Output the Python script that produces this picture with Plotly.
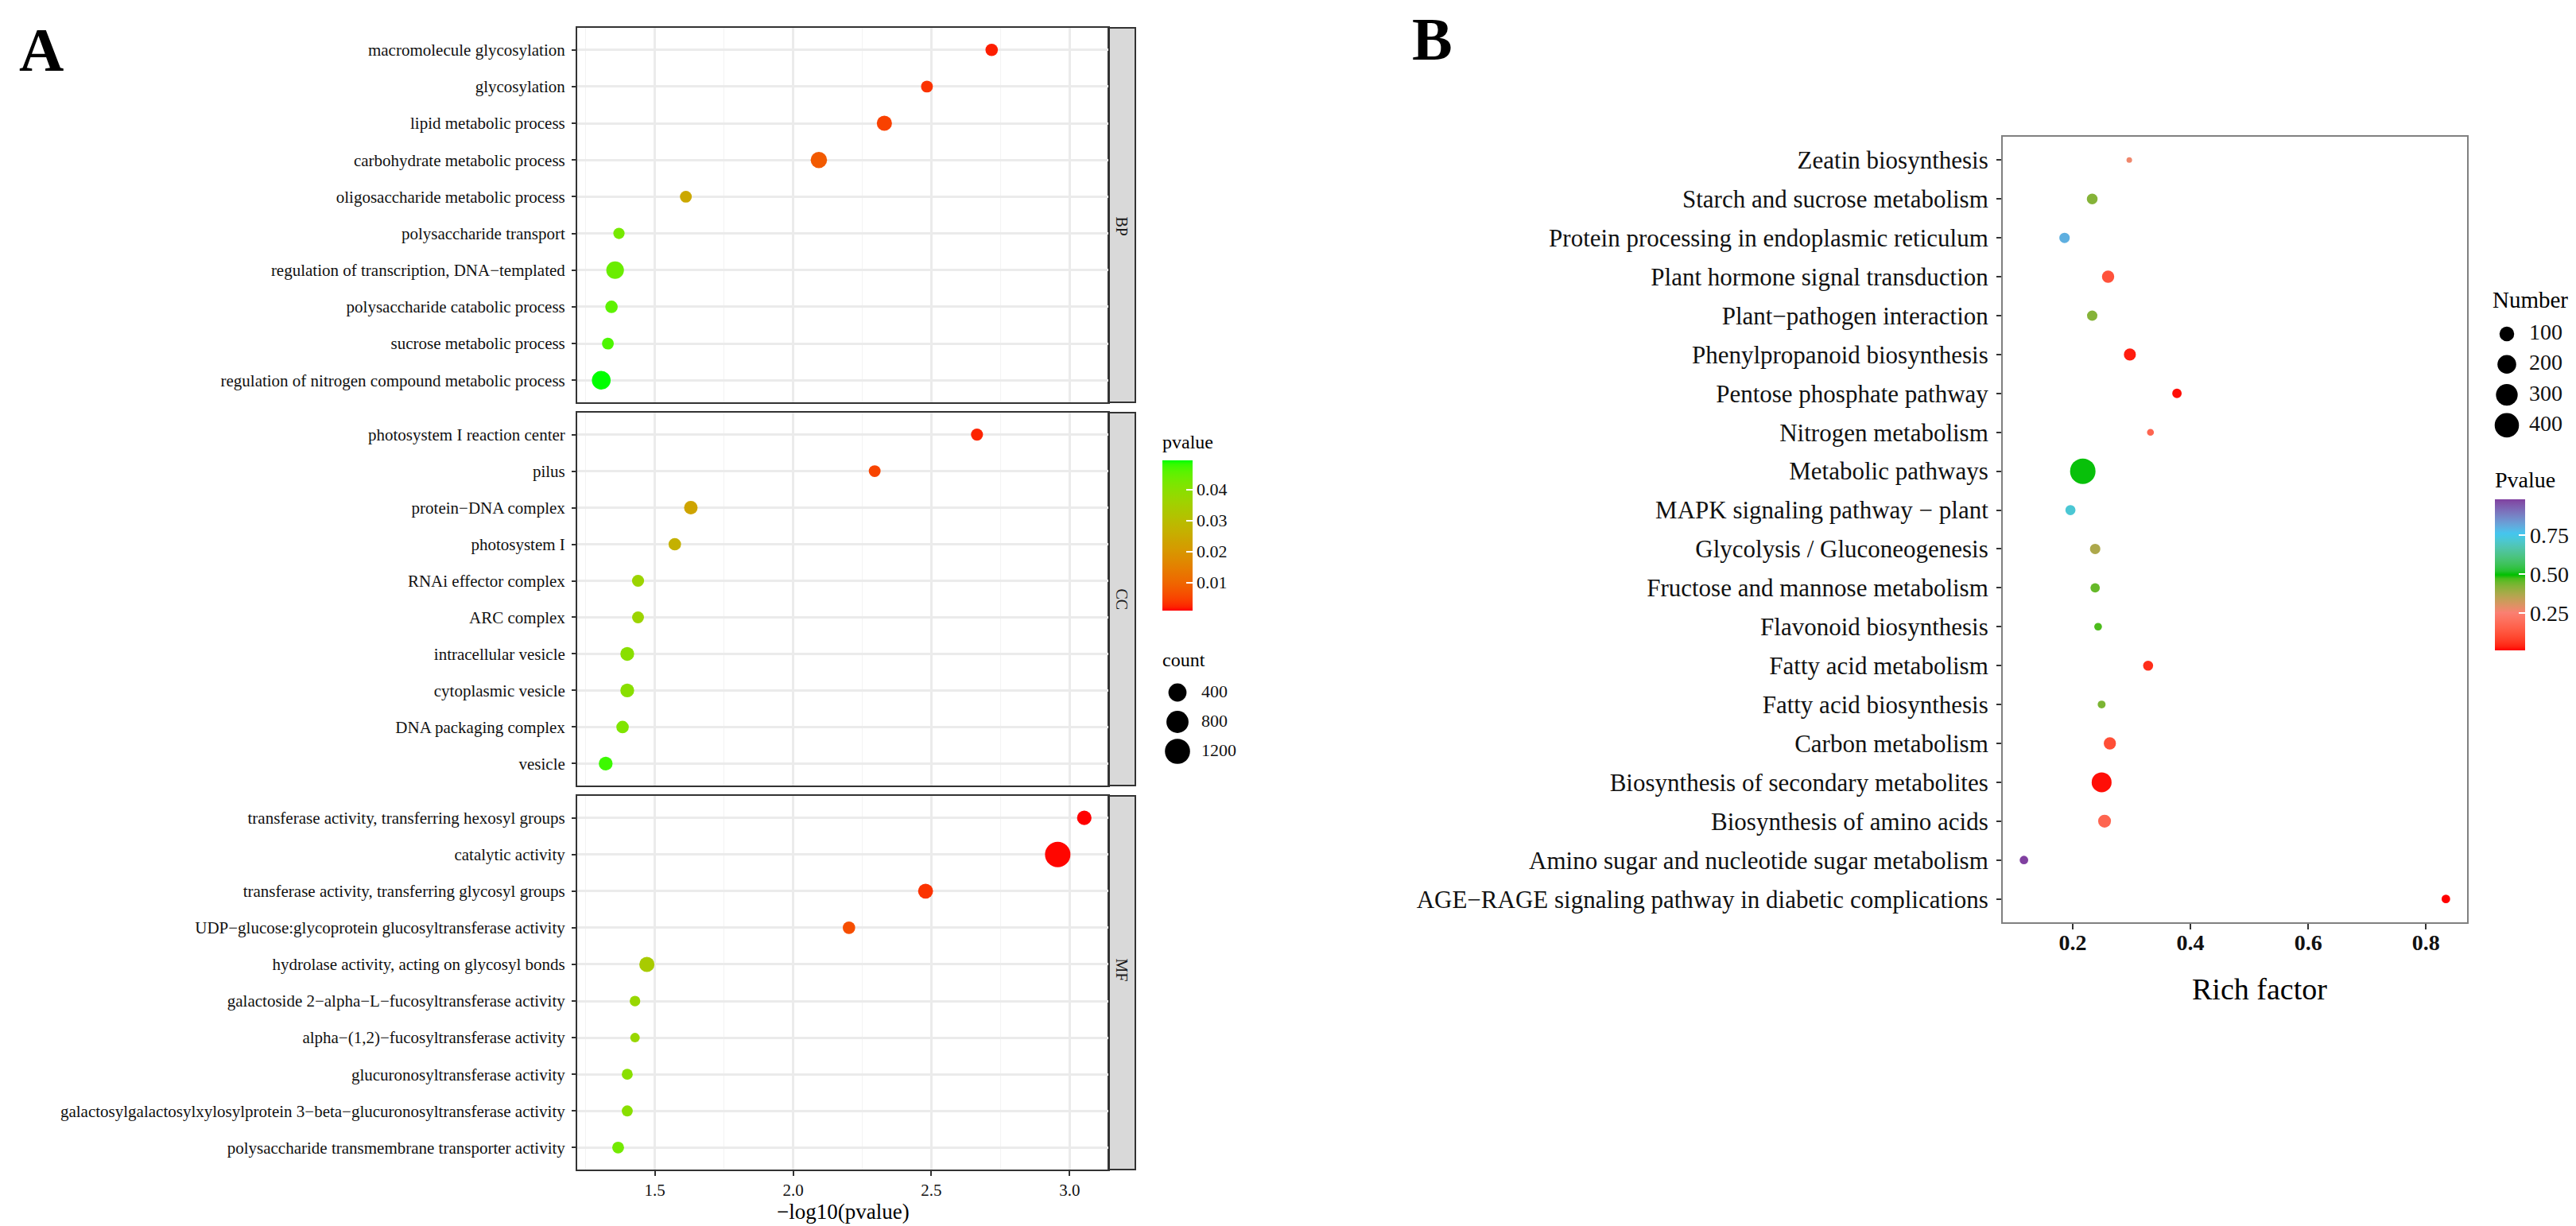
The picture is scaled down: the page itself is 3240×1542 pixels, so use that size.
import numpy as np
import plotly.graph_objects as go

W, H = 3240, 1542
SERIF = "Liberation Serif, Times New Roman, serif"

# ---------------- Panel A data ----------------
bp_terms = ["macromolecule glycosylation", "glycosylation", "lipid metabolic process",
            "carbohydrate metabolic process", "oligosaccharide metabolic process",
            "polysaccharide transport", "regulation of transcription, DNA−templated",
            "polysaccharide catabolic process", "sucrose metabolic process",
            "regulation of nitrogen compound metabolic process"]
bp_logp = [2.718, 2.484, 2.330, 2.093, 1.612, 1.370, 1.356, 1.343, 1.330, 1.306]
bp_count = [90, 75, 200, 270, 75, 65, 360, 90, 75, 450]

cc_terms = ["photosystem I reaction center", "pilus", "protein−DNA complex", "photosystem I",
            "RNAi effector complex", "ARC complex", "intracellular vesicle",
            "cytoplasmic vesicle", "DNA packaging complex", "vesicle"]
cc_logp = [2.665, 2.295, 1.630, 1.572, 1.439, 1.439, 1.400, 1.400, 1.383, 1.322]
cc_count = [80, 75, 125, 90, 80, 75, 135, 135, 90, 135]

mf_terms = ["transferase activity, transferring hexosyl groups", "catalytic activity",
            "transferase activity, transferring glycosyl groups",
            "UDP−glucose:glycoprotein glucosyltransferase activity",
            "hydrolase activity, acting on glycosyl bonds",
            "galactoside 2−alpha−L−fucosyltransferase activity",
            "alpha−(1,2)−fucosyltransferase activity", "glucuronosyltransferase activity",
            "galactosylgalactosylxylosylprotein 3−beta−glucuronosyltransferase activity",
            "polysaccharide transmembrane transporter activity"]
mf_logp = [3.053, 2.957, 2.479, 2.202, 1.471, 1.428, 1.428, 1.400, 1.400, 1.367]
mf_count = [165, 1250, 190, 90, 200, 55, 50, 60, 60, 75]

facet_names = ["BP", "CC", "MF"]
a_xticks = [1.5, 2.0, 2.5, 3.0]
a_pticks = [0.01, 0.02, 0.03, 0.04]
a_count_breaks = [400, 800, 1200]

# ---------------- Panel B data ----------------
kegg_terms = ["Zeatin biosynthesis", "Starch and sucrose metabolism",
              "Protein processing in endoplasmic reticulum", "Plant hormone signal transduction",
              "Plant−pathogen interaction", "Phenylpropanoid biosynthesis",
              "Pentose phosphate pathway", "Nitrogen metabolism", "Metabolic pathways",
              "MAPK signaling pathway − plant", "Glycolysis / Gluconeogenesis",
              "Fructose and mannose metabolism", "Flavonoid biosynthesis",
              "Fatty acid metabolism", "Fatty acid biosynthesis", "Carbon metabolism",
              "Biosynthesis of secondary metabolites", "Biosynthesis of amino acids",
              "Amino sugar and nucleotide sugar metabolism",
              "AGE−RAGE signaling pathway in diabetic complications"]
kegg_rich = [0.296, 0.233, 0.186, 0.260, 0.233, 0.297, 0.377, 0.332, 0.217, 0.196,
             0.238, 0.238, 0.243, 0.328, 0.249, 0.263, 0.249, 0.254, 0.117, 0.834]
kegg_p = [0.27, 0.42, 0.80, 0.12, 0.42, 0.03, 0.02, 0.17, 0.50, 0.72,
          0.37, 0.45, 0.47, 0.05, 0.43, 0.11, 0.02, 0.17, 0.98, 0.01]
kegg_num = [5, 35, 31, 56, 31, 52, 22, 7, 450, 28, 31, 21, 10, 27, 11, 55, 238, 65, 15, 15]
b_xticks = [0.2, 0.4, 0.6, 0.8]
b_pticks = [0.25, 0.50, 0.75]
b_num_breaks = [100, 200, 300, 400]


# ---------------- helpers (colour interpolation in Lab, like ggplot) ----------------
def _hex2rgb(h):
    h = h.lstrip('#')
    return np.array([int(h[i:i + 2], 16) / 255 for i in (0, 2, 4)])


def _rgb2lab(c):
    c = np.where(c > 0.04045, ((c + 0.055) / 1.055) ** 2.4, c / 12.92)
    M = np.array([[0.4124, 0.3576, 0.1805], [0.2126, 0.7152, 0.0722], [0.0193, 0.1192, 0.9505]])
    xyz = M @ c / np.array([0.95047, 1.0, 1.08883])
    f = np.where(xyz > 0.008856, np.cbrt(xyz), 7.787 * xyz + 16 / 116)
    return np.array([116 * f[1] - 16, 500 * (f[0] - f[1]), 200 * (f[1] - f[2])])


def _lab2rgb(lab):
    L, a, b = lab
    fy_ = (L + 16) / 116
    f = np.array([fy_ + a / 500, fy_, fy_ - b / 200])
    xyz = np.where(f ** 3 > 0.008856, f ** 3, (f - 16 / 116) / 7.787) * np.array([0.95047, 1.0, 1.08883])
    Mi = np.array([[3.2406, -1.5372, -0.4986], [-0.9689, 1.8758, 0.0415], [0.0557, -0.2040, 1.0570]])
    c = Mi @ xyz
    c = np.where(c > 0.0031308, 1.055 * np.clip(c, 0, None) ** (1 / 2.4) - 0.055, 12.92 * c)
    c = np.clip(c, 0, 1)
    return "rgb(%d,%d,%d)" % tuple(np.round(c * 255))


def lab_scale(anchors, n=41):
    pos = [p for p, _ in anchors]
    labs = [_rgb2lab(_hex2rgb(h)) for _, h in anchors]
    out = []
    for t in np.linspace(0, 1, n):
        i = min(np.searchsorted(pos, t, side='right') - 1, len(pos) - 2)
        u = (t - pos[i]) / (pos[i + 1] - pos[i])
        out.append([float(t), _lab2rgb(labs[i] + (labs[i + 1] - labs[i]) * u)])
    return out


def diam(c, cmin, cmax, dmin, dmax):
    c = np.asarray(c, dtype=float)
    return dmin + (dmax - dmin) * np.sqrt(np.clip((c - cmin) / (cmax - cmin), 0, 1))


def fx(px):
    return px / W


def fy(py):
    return 1 - py / H


csA = lab_scale([(0, "#FF0000"), (1, "#00FF00")])
csB = lab_scale([(0, "#FF0000"), (0.25, "#FA8072"), (0.5, "#00C000"), (0.77, "#40C8F0"), (1, "#8040A0")])

all_counts = bp_count + cc_count + mf_count
A_CMIN, A_CMAX = min(all_counts), max(all_counts)
A_DMIN, A_DMAX = 12, 32
B_CMIN, B_CMAX = min(kegg_num), max(kegg_num)
B_DMIN, B_DMAX = 7, 32

fig = go.Figure()

# ---------------- Panel A traces ----------------
panels = [(bp_terms, bp_logp, bp_count), (cc_terms, cc_logp, cc_count), (mf_terms, mf_logp, mf_count)]
for k, (terms, lp, cnt) in enumerate(panels):
    sfx = "" if k == 0 else str(k + 1)
    fig.add_trace(go.Scatter(
        x=lp, y=terms, mode="markers", xaxis="x" + sfx, yaxis="y" + sfx,
        marker=dict(size=diam(cnt, A_CMIN, A_CMAX, A_DMIN, A_DMAX),
                    color=[10 ** (-v) for v in lp], coloraxis="coloraxis",
                    line=dict(width=0), opacity=1),
        showlegend=False, hoverinfo="skip"))

# ---------------- Panel B trace ----------------
fig.add_trace(go.Scatter(
    x=kegg_rich, y=kegg_terms, mode="markers", xaxis="x4", yaxis="y4",
    marker=dict(size=diam(kegg_num, B_CMIN, B_CMAX, B_DMIN, B_DMAX), color=kegg_p,
                coloraxis="coloraxis2", line=dict(width=0), opacity=1),
    showlegend=False, hoverinfo="skip"))

# ---------------- size legends ----------------
fig.add_trace(go.Scatter(
    x=[0] * len(a_count_breaks), y=list(range(len(a_count_breaks))), mode="markers",
    xaxis="x5", yaxis="y5", cliponaxis=False,
    marker=dict(size=diam(a_count_breaks, A_CMIN, A_CMAX, A_DMIN, A_DMAX), color="#000000",
                opacity=1, line=dict(width=0)),
    showlegend=False, hoverinfo="skip"))
fig.add_trace(go.Scatter(
    x=[30] * len(a_count_breaks), y=list(range(len(a_count_breaks))), mode="text",
    xaxis="x5", yaxis="y5", cliponaxis=False,
    text=[str(v) for v in a_count_breaks], textposition="middle right",
    textfont=dict(family=SERIF, size=22, color="#111"), showlegend=False, hoverinfo="skip"))

fig.add_trace(go.Scatter(
    x=[0] * len(b_num_breaks), y=list(range(len(b_num_breaks))), mode="markers",
    xaxis="x6", yaxis="y6", cliponaxis=False,
    marker=dict(size=diam(b_num_breaks, B_CMIN, B_CMAX, B_DMIN, B_DMAX), color="#000000",
                opacity=1, line=dict(width=0)),
    showlegend=False, hoverinfo="skip"))
fig.add_trace(go.Scatter(
    x=[28] * len(b_num_breaks), y=list(range(len(b_num_breaks))), mode="text",
    xaxis="x6", yaxis="y6", cliponaxis=False,
    text=[str(v) for v in b_num_breaks], textposition="middle right",
    textfont=dict(family=SERIF, size=28, color="#111"), showlegend=False, hoverinfo="skip"))

# ---------------- axes ----------------
A_X0, A_X1 = 718, 1386
A_PANELS = [(27, 498), (511, 980), (993, 1463)]
GRID = "#EBEBEB"
BORDER = "#333333"

layout = dict(
    width=W, height=H, margin=dict(l=0, r=0, t=0, b=0),
    paper_bgcolor="white", plot_bgcolor="white",
    font=dict(family=SERIF, color="#111"),
)

for k, (t, b) in enumerate(A_PANELS):
    sfx = "" if k == 0 else str(k + 1)
    terms = panels[k][0]
    xa = dict(domain=[fx(A_X0), fx(A_X1)], anchor="y" + sfx, range=[1.219, 3.140],
              showgrid=True, gridcolor=GRID, gridwidth=2.5, zeroline=False,
              showline=True, mirror=True, linecolor=BORDER, linewidth=2,
              tickvals=a_xticks, tickformat=".1f",
              minor=dict(tickvals=[1.25, 1.75, 2.25, 2.75], showgrid=True,
                         gridcolor="#F3F3F3", gridwidth=1.2, ticks=""))
    if k < 2:
        xa.update(showticklabels=False, ticks="")
        if k > 0:
            xa["matches"] = "x"
    else:
        xa.update(matches="x", ticks="outside", ticklen=6, tickwidth=2, tickcolor=BORDER,
                  tickfont=dict(family=SERIF, size=21, color="#111"))
    ya = dict(domain=[fy(b), fy(t)], anchor="x" + sfx, type="category",
              categoryorder="array", categoryarray=list(reversed(terms)),
              range=[-0.6, len(terms) - 0.4], showgrid=True, gridcolor=GRID, gridwidth=2.5,
              zeroline=False, showline=True, mirror=True, linecolor=BORDER, linewidth=2,
              ticks="outside", ticklen=5, tickwidth=2, tickcolor=BORDER, ticklabelstandoff=4,
              tickfont=dict(family=SERIF, size=21, color="#111"))
    layout["xaxis" + sfx] = xa
    layout["yaxis" + sfx] = ya

# Panel B axes
layout["xaxis4"] = dict(domain=[fx(2511), fx(3095)], anchor="y4", range=[0.081, 0.870],
                        showgrid=False, zeroline=False, showline=True, mirror=True,
                        linecolor="#808080", linewidth=2, ticks="outside", ticklen=7,
                        tickwidth=2, tickcolor="#333", tickvals=b_xticks, tickformat=".1f",
                        ticklabelstandoff=-8,
                        tickfont=dict(family=SERIF, size=28, color="#111", weight=700))
layout["yaxis4"] = dict(domain=[fy(1152), fy(164)], anchor="x4", type="category",
                        categoryorder="array", categoryarray=list(reversed(kegg_terms)),
                        range=[-0.6, len(kegg_terms) - 0.4], showgrid=False, zeroline=False,
                        showline=True, mirror=True, linecolor="#808080", linewidth=2,
                        ticks="outside", ticklen=6, tickwidth=2, tickcolor="#333",
                        ticklabelstandoff=4, tickfont=dict(family=SERIF, size=31, color="#111"))

# legend axes (size keys)
nA = len(a_count_breaks)
layout["xaxis5"] = dict(domain=[fx(1443), fx(1543)], range=[-30, 70], visible=False, fixedrange=True)
layout["yaxis5"] = dict(domain=[fy(863 + 37 * (nA - 0.5)), fy(863 - 37 * 0.5)],
                        range=[nA - 0.5, -0.5], visible=False, fixedrange=True)
nB = len(b_num_breaks)
layout["xaxis6"] = dict(domain=[fx(3115), fx(3235)], range=[-30, 90], visible=False, fixedrange=True)
layout["yaxis6"] = dict(domain=[fy(412 + 38.3 * (nB - 0.5)), fy(412 - 38.3 * 0.5)],
                        range=[nB - 0.5, -0.5], visible=False, fixedrange=True)

# colour axes
layout["coloraxis"] = dict(
    colorscale=csA,
    colorbar=dict(x=fx(1454), xanchor="left", xpad=0, y=fy(571), yanchor="top", ypad=0,
                  len=189, lenmode="pixels", thickness=38, outlinewidth=0,
                  tickvals=a_pticks, tickformat=".2f", ticks="inside", ticklen=8,
                  tickcolor="white", tickwidth=1.5,
                  tickfont=dict(family=SERIF, size=22, color="#111"), title=dict(text="")))
layout["coloraxis2"] = dict(
    colorscale=csB,
    colorbar=dict(x=fx(3130), xanchor="left", xpad=0, y=fy(620), yanchor="top", ypad=0,
                  len=190, lenmode="pixels", thickness=38, outlinewidth=0,
                  tickvals=b_pticks, tickformat=".2f", ticks="inside", ticklen=8,
                  tickcolor="white", tickwidth=1.5,
                  tickfont=dict(family=SERIF, size=28, color="#111"), title=dict(text="")))

shapes = []
annotations = []
for k, (t, b) in enumerate(A_PANELS):
    shapes.append(dict(type="rect", xref="paper", yref="paper", x0=fx(A_X1), x1=fx(1420),
                       y0=fy(b), y1=fy(t), fillcolor="#D9D9D9",
                       line=dict(color=BORDER, width=2), layer="below"))
    annotations.append(dict(text=facet_names[k], x=fx((A_X1 + 1420) / 2), y=fy((t + b) / 2),
                            xref="paper", yref="paper", showarrow=False, textangle=90,
                            font=dict(family=SERIF, size=20, color="#1a1a1a")))


def ann(text, x, y, size, xanchor="center", bold=False):
    annotations.append(dict(text=("<b>%s</b>" % text) if bold else text, x=fx(x), y=fy(y),
                            xref="paper", yref="paper", showarrow=False, xanchor=xanchor,
                            yanchor="middle", font=dict(family=SERIF, size=size, color="#000")))


ann("A", 44, 55, 78, bold=True)
ann("B", 1793, 41, 76, bold=True)
ann("−log10(pvalue)", (A_X0 + A_X1) / 2, 1516, 27)
ann("pvalue", 1452, 548, 24, xanchor="left")
ann("count", 1452, 822, 24, xanchor="left")
ann("Number", 3125, 369, 29, xanchor="left")
ann("Pvalue", 3128, 596, 28, xanchor="left")
ann("Rich factor", 2834, 1236, 38)

layout["shapes"] = shapes
layout["annotations"] = annotations
fig.update_layout(**layout)

fig.write_html("out.html")
